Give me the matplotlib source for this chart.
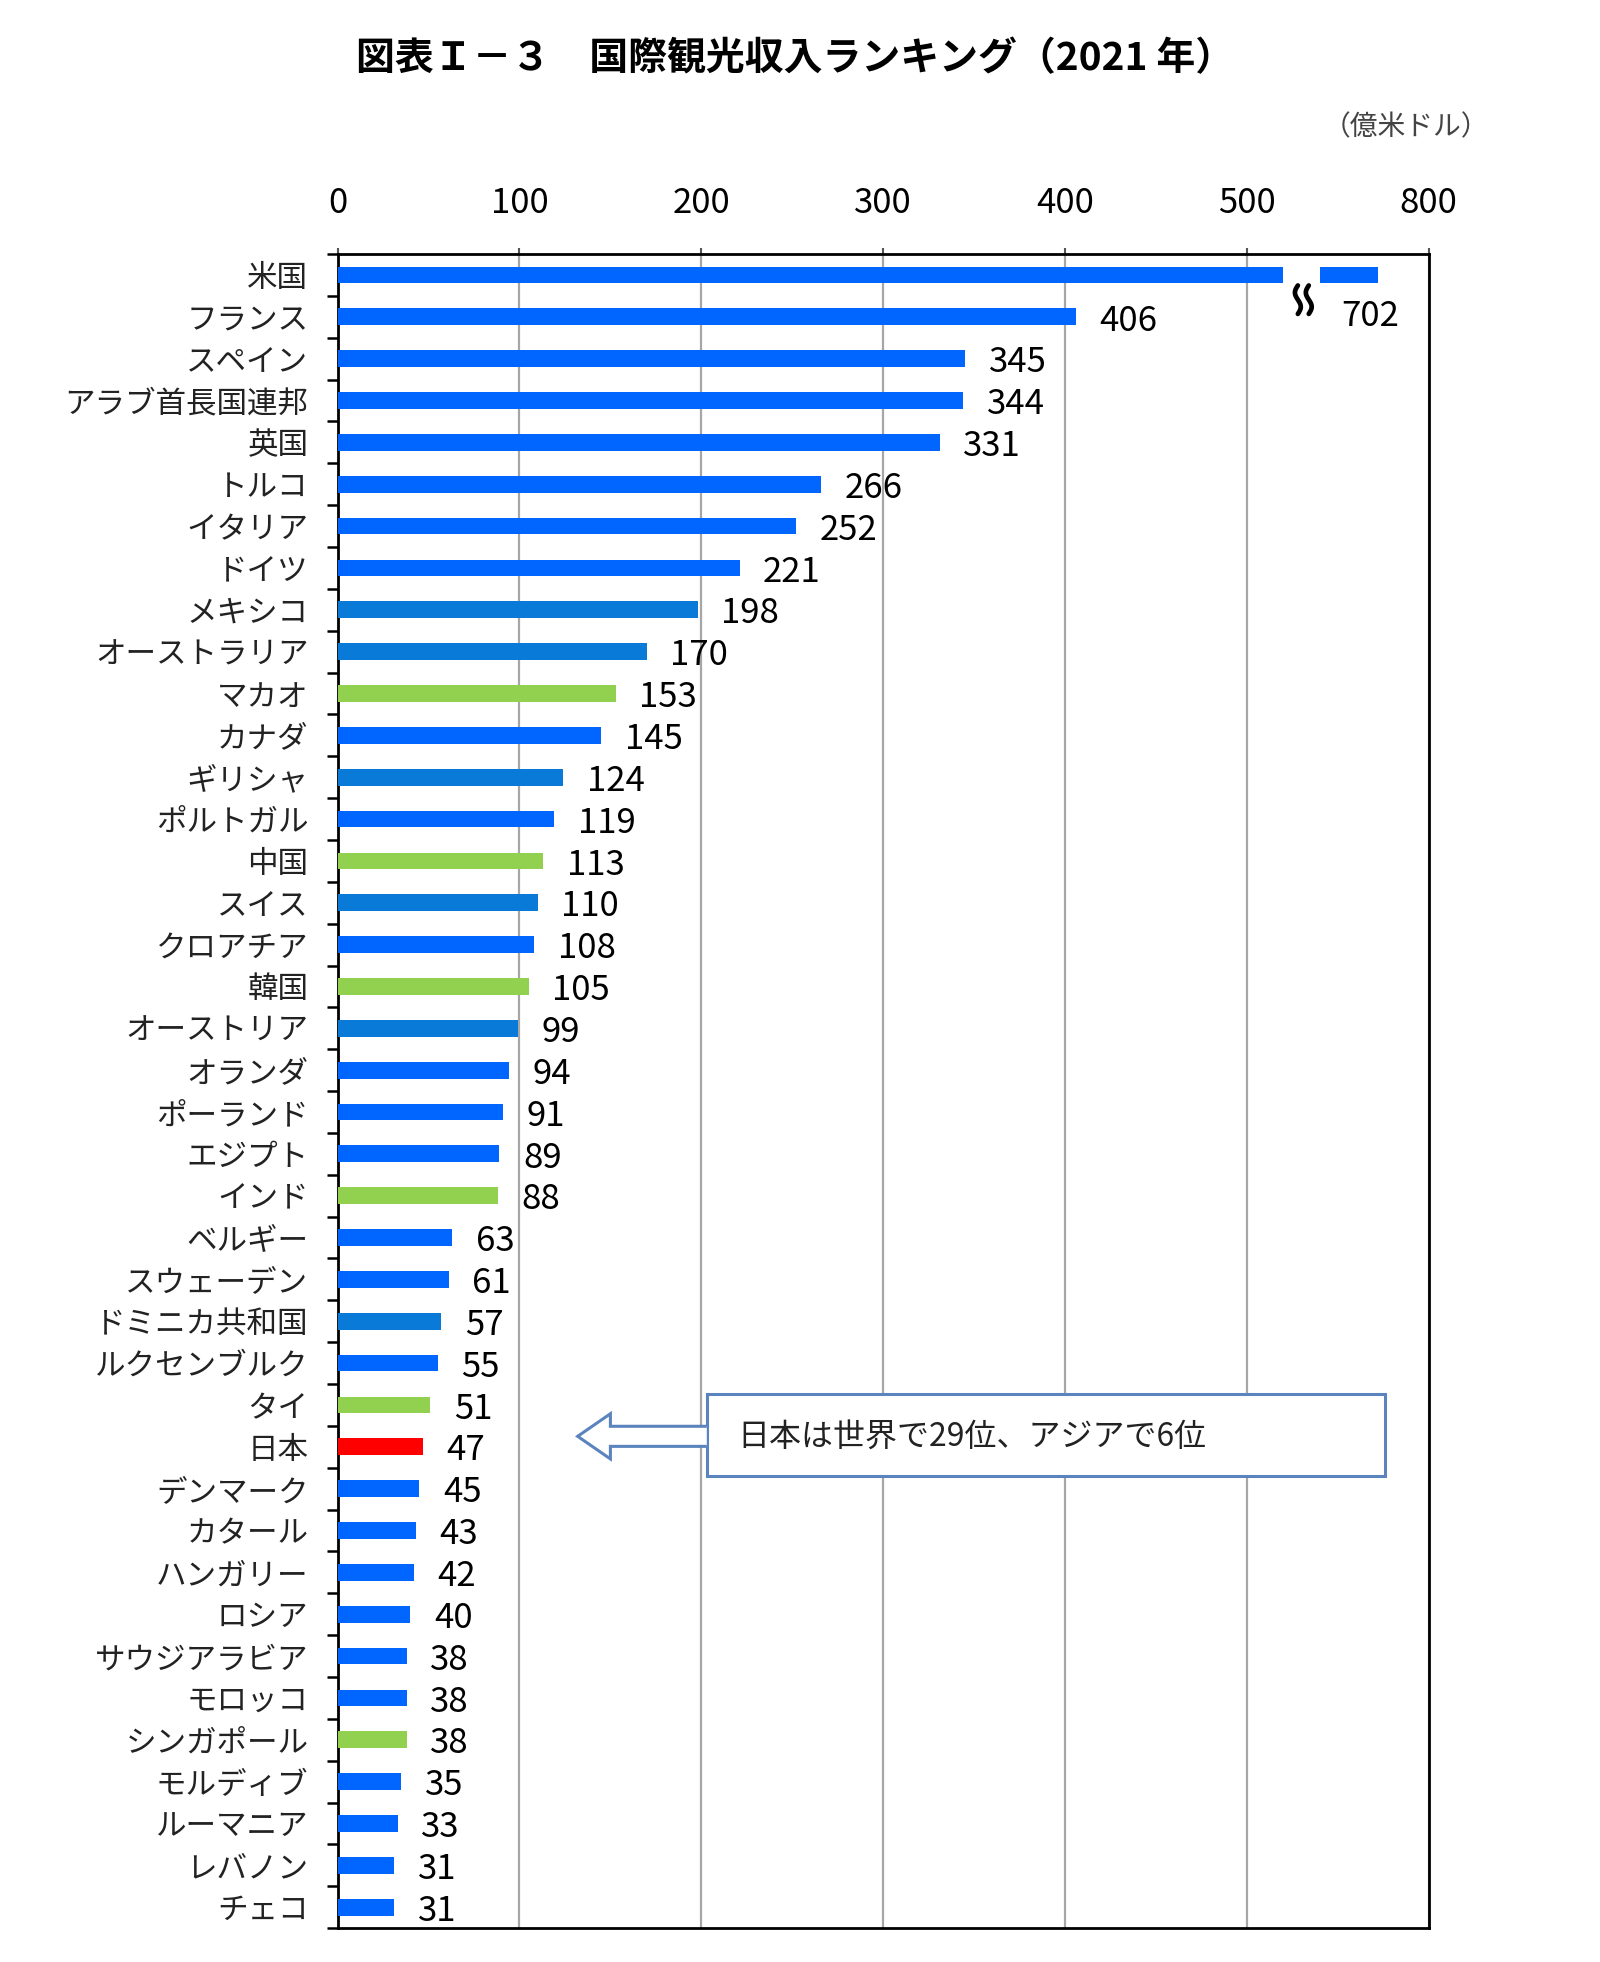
import numpy as np
import matplotlib
matplotlib.use("Agg")
import matplotlib.pyplot as plt
from matplotlib.patches import Rectangle, Polygon

plt.rcParams['font.family'] = ['Noto Sans CJK JP', 'DejaVu Sans']

# data (億米ドル, 2021)
countries = ['米国', 'フランス', 'スペイン', 'アラブ首長国連邦', '英国', 'トルコ', 'イタリア',
             'ドイツ', 'メキシコ', 'オーストラリア', 'マカオ', 'カナダ', 'ギリシャ', 'ポルトガル',
             '中国', 'スイス', 'クロアチア', '韓国', 'オーストリア', 'オランダ', 'ポーランド',
             'エジプト', 'インド', 'ベルギー', 'スウェーデン', 'ドミニカ共和国', 'ルクセンブルク',
             'タイ', '日本', 'デンマーク', 'カタール', 'ハンガリー', 'ロシア', 'サウジアラビア',
             'モロッコ', 'シンガポール', 'モルディブ', 'ルーマニア', 'レバノン', 'チェコ']
values = [702, 406, 345, 344, 331, 266, 252, 221, 198, 170, 153, 145, 124, 119, 113, 110,
          108, 105, 99, 94, 91, 89, 88, 63, 61, 57, 55, 51, 47, 45, 43, 42, 40, 38, 38, 38,
          35, 33, 31, 31]
# a = asia, b = other (bright blue), d = other (darker blue), j = japan
groups = ['b', 'b', 'b', 'b', 'b', 'b', 'b', 'b', 'd', 'd', 'a', 'b', 'd', 'b', 'a', 'd',
          'b', 'a', 'd', 'b', 'b', 'b', 'a', 'b', 'b', 'd', 'b', 'a', 'j', 'b', 'b', 'b',
          'b', 'b', 'b', 'a', 'b', 'b', 'b', 'b']
tick_vals = [0, 100, 200, 300, 400, 500, 600]
tick_labels = ['0', '100', '200', '300', '400', '500', '800']

palette = {'b': '#0066FF', 'd': '#0A7AD8', 'a': '#92D050', 'j': '#FF0000'}

# broken axis: values beyond the break are drawn shifted left
BREAK_LO, BREAK_HI, SHIFT = 520, 540, 130

fig = plt.figure(figsize=(16, 19.62), dpi=100)
ax = fig.add_axes([0.211, 0.0173, 0.682, 0.8532])

y = np.arange(len(countries))
shown = [v - SHIFT if v - SHIFT > BREAK_HI else v for v in values]
ax.barh(y, shown, height=0.4, color=[palette[g] for g in groups], zorder=3)

# gap in the long bar + break mark
ax.add_patch(Rectangle((BREAK_LO, -0.4), BREAK_HI - BREAK_LO, 0.8, facecolor='white',
                       edgecolor='none', zorder=4))
t = np.linspace(0, 1, 80)
for x0 in (528.0, 534.0):
    ax.plot(x0 - 1.6 * np.sin(2 * np.pi * t), 0.25 + 0.68 * t, color='black', lw=3.4,
            zorder=5, solid_capstyle='round')

for i, (v, s) in enumerate(zip(values, shown)):
    if s != v:
        ax.text(s - 4, i + 1.0, str(v), ha='center', va='center', fontsize=25, zorder=6)
    else:
        ax.annotate(str(v), (s, i), xytext=(17, -3), textcoords='offset points',
                    ha='left', va='center', fontsize=25, zorder=6)

ax.set_xlim(0, 600)
ax.set_ylim(len(countries) - 0.5, -0.5)
ax.xaxis.tick_top()
ax.set_xticks(tick_vals)
ax.set_xticklabels(tick_labels, fontsize=25)
ax.tick_params(axis='x', length=4, width=1.5, pad=20, color='#555555')
ax.grid(axis='x', color='#A6A6A6', lw=1.6, zorder=0)

ax.set_yticks(y)
ax.set_yticklabels(countries, fontsize=22, color='#222222')
ax.set_yticks(np.arange(len(countries) + 1) - 0.5, minor=True)
ax.tick_params(axis='y', which='major', length=0, pad=21)
ax.tick_params(axis='y', which='minor', length=8, width=1.8)
for sp in ax.spines.values():
    sp.set_linewidth(2)

# note box with hollow arrow
jp = countries.index('日本')
cy = jp - 0.25
edge = '#5B84BE'
ax.add_patch(Rectangle((203, jp - 1.25), 373, 1.95, facecolor='white', edgecolor=edge,
                       lw=2.2, zorder=6))
arrow = [(203, cy - 0.24), (150, cy - 0.24), (150, cy - 0.54), (132, cy), (150, cy + 0.54),
         (150, cy + 0.24), (203, cy + 0.24)]
ax.add_patch(Polygon(arrow, closed=False, facecolor='white', edgecolor=edge, lw=2.2,
                     zorder=6, joinstyle='miter'))
ax.text(220, cy, '日本は世界で29位、アジアで6位', ha='left', va='center', fontsize=23,
        color='#222222', zorder=7)

fig.text(0.497, 0.970, '図表Ｉ－３　国際観光収入ランキング（2021 年）', ha='center',
         va='center', fontsize=28, fontweight='bold')
fig.text(0.879, 0.935, '（億米ドル）', ha='center', va='center', fontsize=20, color='#444444')

fig.savefig('out.png', dpi=100, facecolor='white')
